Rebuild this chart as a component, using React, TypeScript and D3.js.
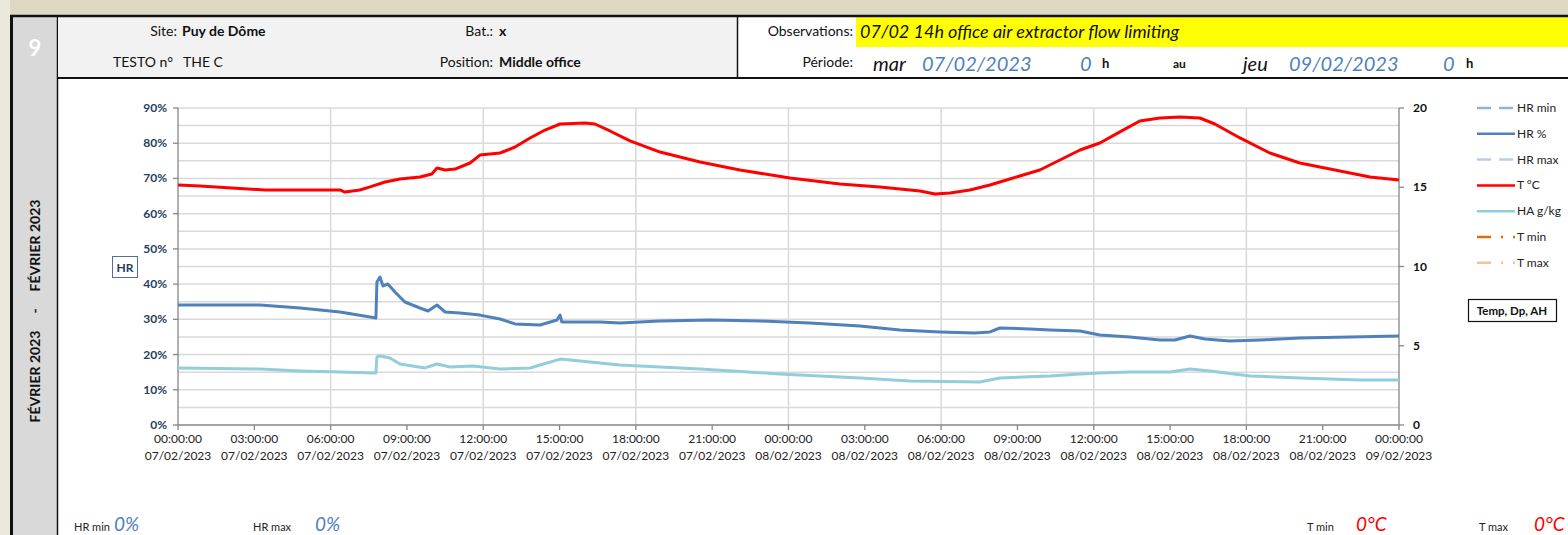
import * as React from 'react';
import * as d3 from 'd3';

// time axis: hours since 07/02/2023 00:00
const xTickHours = [0, 3, 6, 9, 12, 15, 18, 21, 24, 27, 30, 33, 36, 39, 42, 45, 48];
const xTickTimes = ['00:00:00', '03:00:00', '06:00:00', '09:00:00', '12:00:00', '15:00:00', '18:00:00', '21:00:00', '00:00:00', '03:00:00', '06:00:00', '09:00:00', '12:00:00', '15:00:00', '18:00:00', '21:00:00', '00:00:00'];
const xTickDates = ['07/02/2023', '07/02/2023', '07/02/2023', '07/02/2023', '07/02/2023', '07/02/2023', '07/02/2023', '07/02/2023', '08/02/2023', '08/02/2023', '08/02/2023', '08/02/2023', '08/02/2023', '08/02/2023', '08/02/2023', '08/02/2023', '09/02/2023'];
const hrTicks = [0, 10, 20, 30, 40, 50, 60, 70, 80, 90];
const tempTicks = [0, 5, 10, 15, 20];

// T °C (right axis)
const tHours = [0, 0.86, 2.12, 3.42, 6.37, 6.56, 7.15, 7.55, 8.14, 8.73, 9.51, 9.98, 10.18, 10.5, 10.89, 11.48, 11.87, 12.66, 13.25, 13.84, 14.43, 15.02, 16.0, 16.39, 16.98, 17.77, 18.95, 20.52, 22.09, 24.06, 26.02, 27.59, 29.17, 29.76, 30.35, 31.13, 31.92, 32.7, 33.88, 34.67, 35.46, 36.24, 37.03, 37.81, 38.6, 39.39, 40.17, 40.76, 41.75, 42.92, 44.1, 45.68, 46.86, 48];
const tValues = [15.14, 15.08, 14.95, 14.83, 14.83, 14.7, 14.83, 15.02, 15.33, 15.52, 15.65, 15.84, 16.21, 16.09, 16.15, 16.53, 17.03, 17.16, 17.54, 18.11, 18.61, 18.99, 19.05, 18.99, 18.55, 17.92, 17.22, 16.59, 16.09, 15.58, 15.21, 15.02, 14.76, 14.57, 14.64, 14.83, 15.14, 15.52, 16.09, 16.72, 17.35, 17.79, 18.49, 19.18, 19.37, 19.43, 19.37, 18.99, 18.11, 17.16, 16.53, 16.03, 15.65, 15.46];

// HR % (left axis)
const hrHours = [0, 3.22, 4.8, 6.37, 7.55, 7.78, 7.82, 7.94, 8.06, 8.25, 8.53, 8.92, 9.51, 9.83, 10.18, 10.5, 11.08, 11.87, 12.66, 13.25, 14.23, 14.9, 15.02, 15.09, 16.59, 17.37, 18.95, 20.91, 22.88, 24.84, 26.81, 28.38, 29.95, 31.33, 31.92, 32.31, 33.49, 34.28, 35.46, 36.24, 37.42, 38.6, 39.19, 39.78, 40.37, 41.35, 42.53, 44.1, 46.07, 48];
const hrValues = [34.07, 34.07, 33.2, 32.08, 30.66, 30.37, 40.6, 42.02, 39.47, 40.03, 37.76, 34.92, 33.22, 32.37, 34.07, 32.08, 31.8, 31.2, 30.1, 28.7, 28.4, 29.81, 31.23, 29.24, 29.24, 28.96, 29.53, 29.81, 29.53, 28.96, 28.11, 26.97, 26.41, 26.12, 26.41, 27.54, 27.26, 26.97, 26.69, 25.55, 24.99, 24.13, 24.13, 25.27, 24.42, 23.85, 24.13, 24.7, 24.99, 25.27];

// HA g/kg (right axis)
const haHours = [0, 3.22, 4.8, 6.37, 7.78, 7.82, 7.94, 8.33, 8.73, 9.71, 10.18, 10.69, 11.6, 12.66, 13.84, 15.02, 16.59, 17.37, 20.52, 23.66, 26.81, 28.77, 31.52, 32.31, 34.28, 35.46, 36.24, 37.42, 38.99, 39.78, 40.57, 42.14, 44.1, 46.46, 48];
const haValues = [3.6, 3.53, 3.41, 3.34, 3.28, 4.29, 4.35, 4.23, 3.85, 3.6, 3.85, 3.66, 3.72, 3.53, 3.6, 4.16, 3.91, 3.79, 3.53, 3.22, 2.97, 2.78, 2.71, 2.97, 3.09, 3.22, 3.28, 3.34, 3.34, 3.53, 3.41, 3.09, 2.97, 2.84, 2.84];

const legendLabels = ['HR min', 'HR %', 'HR max', 'T °C', 'HA g/kg', 'T min', 'T max'];
const legendColors = ['#95b3d7', '#4f81bd', '#b9cde5', '#ff0000', '#92cddc', '#e46c0a', '#fac090'];
const legendDashes = ['14,8', '', '14,8', '', '', '14,10,2,10', '14,10,2,10'];

const FONT = 'Lato, "Open Sans", sans-serif';

function App() {
	const plot = { left: 178, right: 1399, top: 108, bottom: 425 };
	const x = d3.scaleLinear().domain([0, 48]).range([plot.left, plot.right]);
	const yHr = d3.scaleLinear().domain([0, 90]).range([plot.bottom, plot.top]);
	const yT = d3.scaleLinear().domain([0, 20]).range([plot.bottom, plot.top]);

	const lineHr = d3.line<number>().x((d, i) => x(hrHours[i])).y((d) => yHr(d));
	const lineT = d3.line<number>().x((d, i) => x(tHours[i])).y((d) => yT(d));
	const lineHa = d3.line<number>().x((d, i) => x(haHours[i])).y((d) => yT(d));

	const hGrid = d3.range(5, 91, 5);
	const vGrid = d3.range(6, 48, 6);

	return (
		<svg width={1568} height={535} style={{ position: 'absolute', left: 0, top: 0, fontFamily: FONT }}>
			<rect x={0} y={0} width={1568} height={535} fill="#ffffff" />
			{/* page background strips */}
			<rect x={0} y={0} width={1568} height={15} fill="#ddd7c4" />
			<rect x={0} y={0} width={10} height={535} fill="#ebe8dc" />
			<rect x={12} y={16} width={45} height={519} fill="#d9d9d9" />
			<line x1={11.5} y1={15} x2={11.5} y2={535} stroke="#111" strokeWidth={3} />
			<line x1={57.5} y1={16} x2={57.5} y2={535} stroke="#111" strokeWidth={1.5} />
			<text x={35} y={56} textAnchor="middle" fill="#ffffff" fontWeight="bold" fontSize={22}>9</text>
			<text transform="translate(40,311) rotate(-90)" textAnchor="middle" fontWeight="bold" fontSize={14} fill="#111" style={{ whiteSpace: 'pre' }}>
				{'FÉVRIER 2023     -     FÉVRIER 2023'}
			</text>

			{/* header */}
			<rect x={58} y={17} width={679} height={60} fill="#f2f2f2" />
			<rect x={856} y={17} width={712} height={30} fill="#ffff00" />
			<line x1={10} y1={16} x2={1568} y2={16} stroke="#111" strokeWidth={2.5} />
			<line x1={58} y1={78} x2={1568} y2={78} stroke="#111" strokeWidth={2} />
			<line x1={737.5} y1={17} x2={737.5} y2={78} stroke="#111" strokeWidth={1.5} />

			<g fontSize={14} fill="#111">
				<text x={177} y={36} textAnchor="end">Site:</text>
				<text x={182} y={36} fontWeight="bold">Puy de Dôme</text>
				<text x={113} y={67}>TESTO n°</text>
				<text x={183} y={67}>THE C</text>
				<text x={493} y={36} textAnchor="end">Bat.:</text>
				<text x={499} y={36} fontWeight="bold">x</text>
				<text x={493} y={67} textAnchor="end">Position:</text>
				<text x={499} y={67} fontWeight="bold">Middle office</text>
				<text x={853} y={36} textAnchor="end">Observations:</text>
				<text x={853} y={67} textAnchor="end">Période:</text>
			</g>
			<text x={860} y={38} fontSize={18} fontStyle="italic" fill="#111">07/02 14h office air extractor flow limiting</text>
			<g fontSize={20} fontStyle="italic">
				<text x={873} y={71} fill="#111">mar</text>
				<text x={922} y={71} fill="#4f81bd">07/02/2023</text>
				<text x={1080} y={71} fill="#4f81bd">0</text>
				<text x={1243} y={71} fill="#111">jeu</text>
				<text x={1289} y={71} fill="#4f81bd">09/02/2023</text>
				<text x={1443} y={71} fill="#4f81bd">0</text>
			</g>
			<g fontSize={13} fontWeight="bold" fill="#111">
				<text x={1102} y={68}>h</text>
				<text x={1173} y={68} fontSize={12}>au</text>
				<text x={1466} y={68}>h</text>
			</g>

			{/* grid */}
			{hGrid.map((v) => (
				<line key={'h' + v} x1={plot.left} x2={plot.right} y1={yHr(v)} y2={yHr(v)} stroke="#d9d9d9" strokeWidth={1.5} />
			))}
			{vGrid.map((v) => (
				<line key={'v' + v} x1={x(v)} x2={x(v)} y1={plot.top} y2={plot.bottom} stroke="#d9d9d9" strokeWidth={1.5} />
			))}

			{/* axes */}
			<g stroke="#868686" strokeWidth={1.3}>
				<line x1={plot.left} x2={plot.left} y1={plot.top} y2={plot.bottom} />
				<line x1={plot.right} x2={plot.right} y1={plot.top} y2={plot.bottom} />
				<line x1={plot.left} x2={plot.right} y1={plot.bottom} y2={plot.bottom} />
				{hrTicks.map((v) => (
					<line key={'lt' + v} x1={plot.left - 5} x2={plot.left} y1={yHr(v)} y2={yHr(v)} />
				))}
				{tempTicks.map((v) => (
					<line key={'rt' + v} x1={plot.right} x2={plot.right + 5} y1={yT(v)} y2={yT(v)} />
				))}
				{xTickHours.map((v) => (
					<line key={'bt' + v} x1={x(v)} x2={x(v)} y1={plot.bottom} y2={plot.bottom + 5} />
				))}
			</g>
			<g fontSize={12} fontWeight="bold" fill="#243f60" textAnchor="end">
				{hrTicks.map((v) => (
					<text key={'ll' + v} x={plot.left - 11} y={yHr(v) + 4}>{v + '%'}</text>
				))}
			</g>
			<g fontSize={12} fontWeight="bold" fill="#111">
				{tempTicks.map((v) => (
					<text key={'rl' + v} x={plot.right + 14} y={yT(v) + 4}>{v}</text>
				))}
			</g>
			<g fontSize={12} fill="#222" textAnchor="middle">
				{xTickHours.map((v, i) => (
					<g key={'xl' + v}>
						<text x={x(v)} y={443}>{xTickTimes[i]}</text>
						<text x={x(v)} y={460}>{xTickDates[i]}</text>
					</g>
				))}
			</g>

			{/* series */}
			<path d={lineHa(haValues) || ''} fill="none" stroke="#92cddc" strokeWidth={3} strokeLinejoin="round" />
			<path d={lineHr(hrValues) || ''} fill="none" stroke="#4f81bd" strokeWidth={3} strokeLinejoin="round" />
			<path d={lineT(tValues) || ''} fill="none" stroke="#ff0000" strokeWidth={3} strokeLinejoin="round" />

			{/* axis title boxes */}
			<rect x={112.5} y={256.5} width={25} height={21} fill="#fff" stroke="#4f6f9f" strokeWidth={1} />
			<text x={125} y={272} textAnchor="middle" fontSize={12} fontWeight="bold" fill="#243f60">HR</text>
			<rect x={1468.5} y={299.5} width={88} height={22} fill="#fff" stroke="#111" strokeWidth={1.2} />
			<text x={1512} y={315} textAnchor="middle" fontSize={11.5} fontWeight="bold" fill="#111">Temp, Dp, AH</text>

			{/* legend */}
			{legendLabels.map((lab, i) => {
				const ly = 108 + i * 25.8;
				return (
					<g key={lab}>
						<line x1={1477} x2={1515} y1={ly} y2={ly} stroke={legendColors[i]} strokeWidth={2.5} strokeDasharray={legendDashes[i]} />
						<text x={1517} y={ly + 4} fontSize={12} fill="#222">{lab}</text>
					</g>
				);
			})}

			{/* bottom summary row */}
			<g fontSize={11} fill="#222">
				<text x={74} y={531}>HR min</text>
				<text x={253} y={531}>HR max</text>
				<text x={1307} y={531}>T min</text>
				<text x={1479} y={531}>T max</text>
			</g>
			<g fontSize={19} fontStyle="italic">
				<text x={114} y={531} fill="#4f81bd">0%</text>
				<text x={315} y={531} fill="#4f81bd">0%</text>
				<text x={1356} y={531} fill="#ff0000">0°C</text>
				<text x={1534} y={531} fill="#ff0000">0°C</text>
			</g>
		</svg>
	);
}

export default App;
